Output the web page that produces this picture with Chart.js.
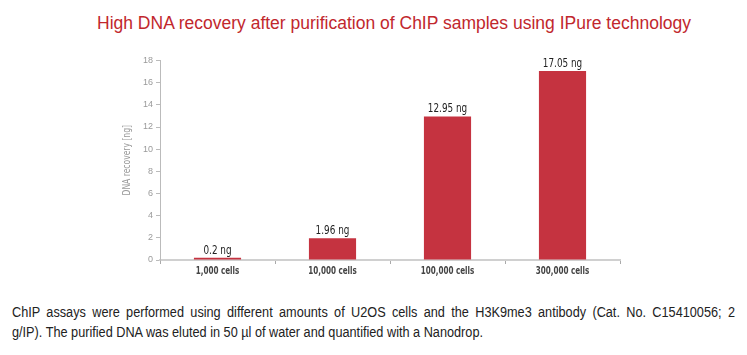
<!DOCTYPE html>
<html>
<head>
<meta charset="utf-8">
<script src="https://cdn.jsdelivr.net/npm/chart.js@4.4.0/dist/chart.umd.min.js"></script>
<style>
  html, body { margin: 0; padding: 0; background: #fff; }
  body { width: 747px; height: 355px; position: relative; overflow: hidden; }
  #title { position: absolute; top: 13px; left: 97px; text-align: left;
    font-family: "Liberation Sans", Arial, sans-serif; font-size: 17.5px; color: #c1272d; white-space: nowrap; }
  #wrap { position: absolute; top: 40px; left: 0; width: 747px; height: 240px; }
  #caption { position: absolute; top: 302px; left: 12px; transform-origin: 0 0;
    font-family: "Liberation Sans", Arial, sans-serif;
    font-size: 14px; line-height: 20px; color: #222; }
  #cap1 { display: block; text-align: justify; text-align-last: justify; white-space: nowrap; }
  #cap2 { display: inline-block; white-space: nowrap; }
</style>
</head>
<body>
<div id="title">High DNA recovery after purification of ChIP samples using IPure technology</div>
<div id="wrap"><canvas id="c"></canvas></div>
<div id="caption"><span id="cap1">ChIP assays were performed using different amounts of U2OS cells and the H3K9me3 antibody (Cat. No. C15410056; 2</span><span id="cap2">g/IP). The purified DNA was eluted in 50 µl of water and quantified with a Nanodrop.</span></div>
<script>
const categories = ["1,000 cells", "10,000 cells", "100,000 cells", "300,000 cells"];
const recovery = [0.2, 1.96, 12.95, 17.05];
const valueLabels = ["0.2 ng", "1.96 ng", "12.95 ng", "17.05 ng"];
const yTicks = [0, 2, 4, 6, 8, 10, 12, 14, 16, 18];
const yTitle = "DNA recovery [ng]";

// caption: narrow the font horizontally so the lines break like the reference
(function () {
  const cap = document.getElementById('caption');
  const c2 = document.getElementById('cap2');
  const w2 = c2.getBoundingClientRect().width;
  const s = 471 / w2;
  cap.style.width = (723 / s) + 'px';
  document.getElementById('cap1').style.whiteSpace = 'normal';
  cap.style.transform = 'scaleX(' + s + ')';
})();

const fam = '"DejaVu Sans", sans-serif';

function drawNarrow(ctx, text, x, y, sx, rot) {
  ctx.save();
  ctx.translate(x, y);
  if (rot) ctx.rotate(rot);
  ctx.scale(sx, 1);
  ctx.fillText(text, 0, 0);
  ctx.restore();
}

const textPlugin = {
  id: 'narrowText',
  afterDatasetsDraw(chart) {
    const ctx = chart.ctx;
    const meta = chart.getDatasetMeta(0);
    const xs = chart.scales.x;
    const area = chart.chartArea;
    ctx.save();
    ctx.textAlign = 'center';
    // value labels above bars
    ctx.font = '11.5px ' + fam;
    ctx.fillStyle = '#222';
    ctx.textBaseline = 'alphabetic';
    meta.data.forEach((bar, i) => drawNarrow(ctx, valueLabels[i], bar.x, bar.y - 4, 0.77));
    // category labels
    ctx.font = 'bold 10px ' + fam;
    ctx.fillStyle = '#444';
    ctx.textBaseline = 'middle';
    categories.forEach((c, i) => drawNarrow(ctx, c, xs.getPixelForTick(i), area.bottom + 11.5, 0.72));
    // y axis title
    ctx.font = '10px ' + fam;
    ctx.fillStyle = '#999';
    drawNarrow(ctx, yTitle, 127, (area.top + area.bottom) / 2, 0.76, -Math.PI / 2);
    ctx.restore();
  }
};

new Chart(document.getElementById('c'), {
  type: 'bar',
  data: {
    labels: categories,
    datasets: [{
      data: recovery,
      backgroundColor: '#c53340',
      borderWidth: 0,
      barPercentage: 0.41,
      categoryPercentage: 1.0
    }]
  },
  options: {
    responsive: true,
    maintainAspectRatio: false,
    animation: false,
    layout: { padding: { left: 120, right: 127, top: 20.5, bottom: 0 } },
    plugins: { legend: { display: false }, tooltip: { enabled: false }, title: { display: false } },
    scales: {
      x: {
        grid: { display: true, drawOnChartArea: false, tickLength: 4, color: '#aaa', offset: true },
        border: { color: '#d0d0d0', width: 2 },
        ticks: { display: false },
        afterFit(s) { s.height = 20; }
      },
      y: {
        min: 0, max: 18,
        afterBuildTicks(s) { s.ticks = yTicks.map(v => ({ value: v })); },
        grid: { display: true, drawOnChartArea: false, tickLength: 4, color: '#bbb' },
        border: { color: '#bbb', width: 1 },
        ticks: { color: '#9a9a9a', font: { family: '"Liberation Sans", sans-serif', size: 9 }, padding: 3 },
        afterFit(s) { s.width = 40; }
      }
    }
  },
  plugins: [textPlugin]
});
</script>
</body>
</html>
